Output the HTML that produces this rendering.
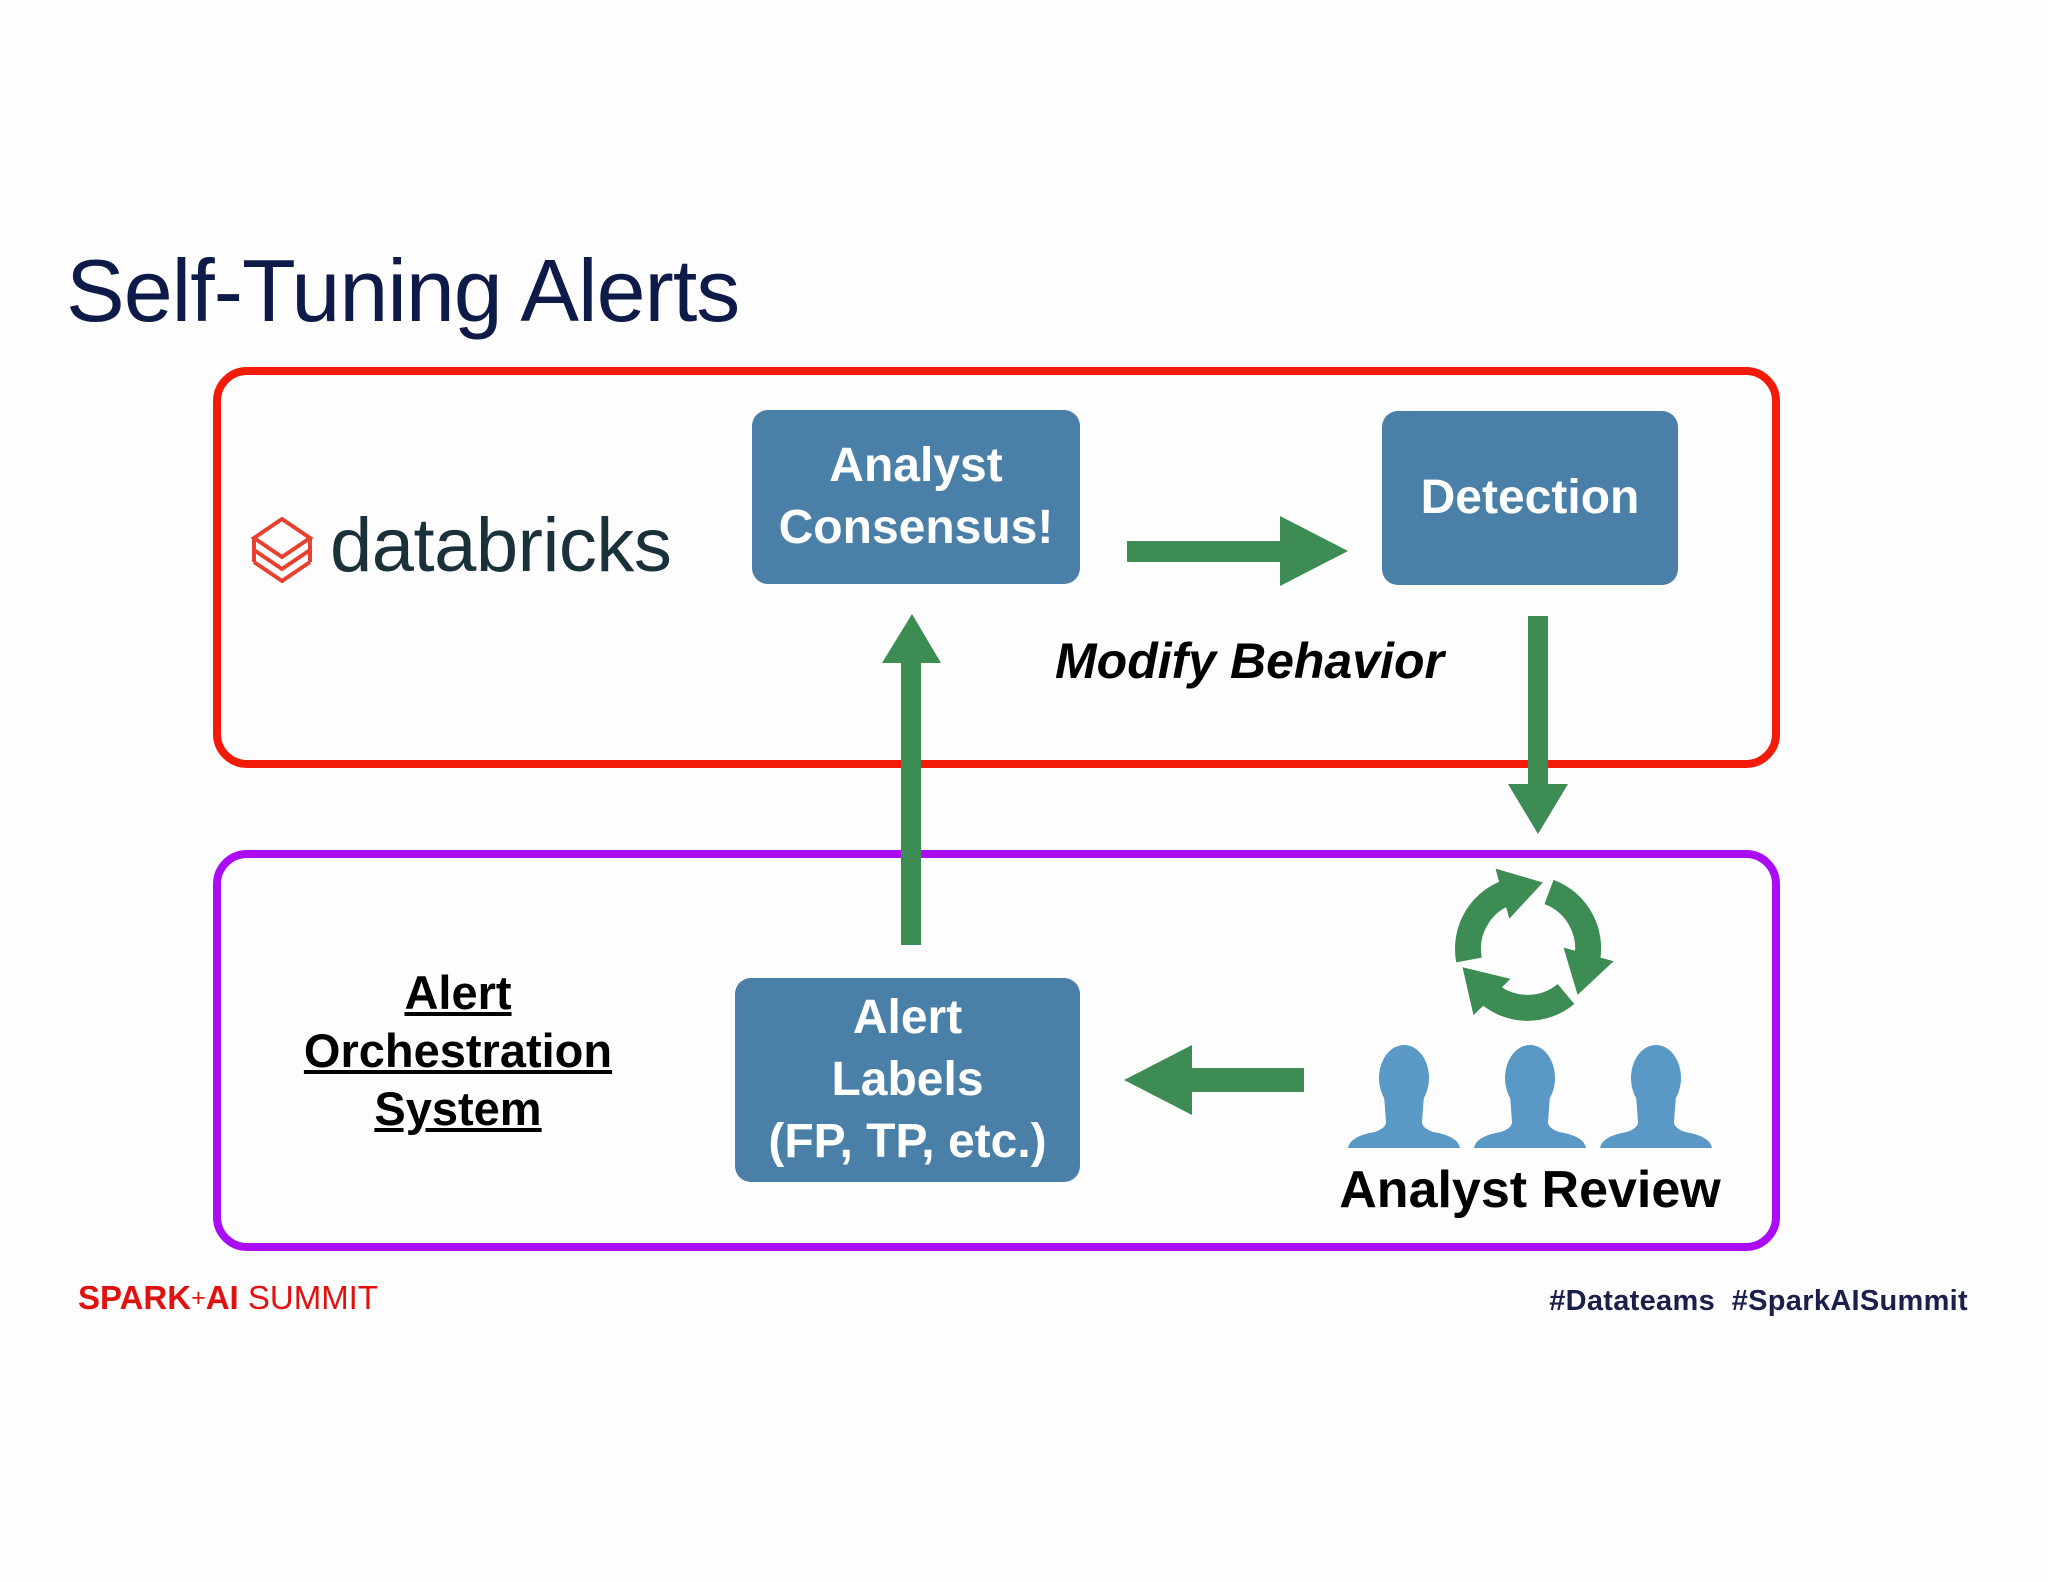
<!DOCTYPE html>
<html><head><meta charset="utf-8"><style>
html,body{margin:0;padding:0}
body{width:2048px;height:1582px;background:#fdfdfd;position:relative;overflow:hidden;font-family:"Liberation Sans",sans-serif}
.abs{position:absolute}
.box{position:absolute;background:#4a80a8;border-radius:16px;color:#fff;font-weight:bold;display:flex;align-items:center;justify-content:center;text-align:center;font-size:48px;line-height:62px}
</style></head><body>
<div class="abs" style="left:66px;top:240px;font-size:88px;color:#0e1a48;letter-spacing:-1px">Self-Tuning Alerts</div>

<div class="abs" style="left:213px;top:367px;width:1551px;height:385px;border:8px solid #f21b0a;border-radius:34px"></div>
<div class="abs" style="left:213px;top:850px;width:1551px;height:385px;border:8px solid #aa0cf5;border-radius:34px"></div>

<div class="box" style="left:752px;top:410px;width:328px;height:174px">Analyst<br>Consensus!</div>
<div class="box" style="left:1382px;top:411px;width:296px;height:174px">Detection</div>
<div class="box" style="left:735px;top:978px;width:345px;height:204px">Alert<br>Labels<br>(FP, TP, etc.)</div>

<div class="abs" style="left:330px;top:502px;font-size:76px;color:#1b3139;letter-spacing:-0.5px">databricks</div>

<div class="abs" style="left:1055px;top:632px;font-size:50px;font-weight:bold;font-style:italic;color:#000">Modify Behavior</div>

<div class="abs" style="left:258px;top:964px;width:400px;text-align:center;font-size:47px;line-height:58px;font-weight:bold;text-decoration:underline;color:#000">Alert<br>Orchestration<br>System</div>

<div class="abs" style="left:1330px;top:1160px;width:400px;text-align:center;font-size:52px;font-weight:bold;color:#000">Analyst Review</div>

<div class="abs" style="left:78px;top:1279px;font-size:33px;color:#e0120f"><b>SPARK</b><span style="font-size:25px;vertical-align:3px">+</span><b>AI</b> SUMMIT</div>
<div class="abs" style="left:1500px;top:1285px;width:468px;text-align:right;font-size:29px;font-weight:bold;color:#1b1f4b;letter-spacing:0.3px">#Datateams&nbsp; #SparkAISummit</div>

<svg class="abs" style="left:0;top:0" width="2048" height="1582">
<defs>
<marker id="ah" markerUnits="userSpaceOnUse" markerWidth="56" markerHeight="56" refX="10" refY="28" orient="auto">
<path d="M0,2 L42,28 L0,54 Z" fill="#3c8c54"/></marker>
</defs>
<g fill="#3c8c54">
<!-- databricks icon -->
<g fill="none" stroke="#e8402f" stroke-width="4">
<path d="M254,538 L282,519 L310,538 L282,557 Z"/>
<path d="M254,550 L282,569 L310,550"/>
<path d="M254,562 L282,581 L310,562"/>
<path d="M254,538 L254,562 M310,538 L310,562"/>
</g>
<!-- right arrow -->
<rect x="1127" y="541" width="160" height="21"/>
<path d="M1280,516 L1348,551 L1280,586 Z"/>
<!-- up arrow -->
<rect x="901" y="660" width="20" height="285"/>
<path d="M882,663 L912,614 L941,663 Z"/>
<!-- down arrow -->
<rect x="1528" y="616" width="20" height="170"/>
<path d="M1508,784 L1538,834 L1568,784 Z"/>
<!-- left arrow -->
<rect x="1191" y="1068" width="113" height="24"/>
<path d="M1192,1045 L1124,1080 L1192,1115 Z"/>
</g>
<!-- recycle -->
<g fill="none" stroke="#3c8c54" stroke-width="26" marker-end="url(#ah)">
<path d="M1469,960 A60,60 0 0 1 1512,891"/>
<path d="M1549,892 A60,60 0 0 1 1586,964"/>
<path d="M1566,994 A60,60 0 0 1 1485,990"/>
</g>
<!-- people -->
<g fill="#5a99c6">
<g id="p"><ellipse cx="1404" cy="1078" rx="25" ry="33"/>
<path d="M1384,1095 L1386,1122 Q1386,1128 1375,1132 Q1350,1136 1348,1148 L1460,1148 Q1458,1136 1433,1132 Q1422,1128 1422,1122 L1424,1095 Z"/></g>
<use href="#p" x="126"/>
<use href="#p" x="252"/>
</g>
</svg>
</body></html>
